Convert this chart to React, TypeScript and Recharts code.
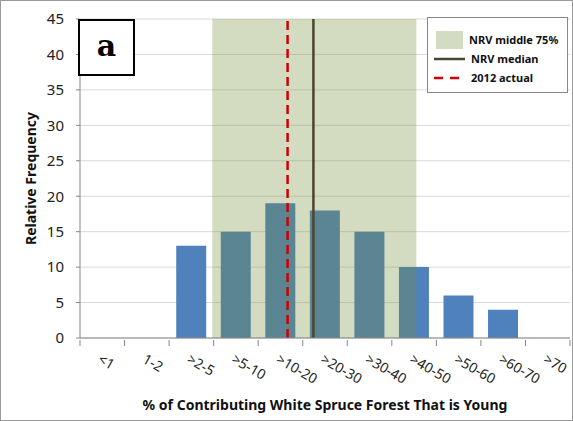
import React from 'react';
import {
  Bar,
  BarChart,
  CartesianGrid,
  Legend,
  ReferenceArea,
  ReferenceLine,
  XAxis,
  YAxis,
} from 'recharts';

const categories = ['<1', '1-2', '>2-5', '>5-10', '>10-20', '>20-30', '>30-40', '>40-50', '>50-60', '>60-70', '>70'];
const frequency = [0, 0, 13, 15, 19, 18, 15, 10, 6, 4, 0];
const yTicks = [0, 5, 10, 15, 20, 25, 30, 35, 40, 45];

// NRV stats in category-index units (0 = left edge of "<1", 11 = right edge of ">70")
const nrvMiddle75 = [2.97, 7.55];
const nrvMedian = 5.24;
const actual2012 = 4.66;

// pos = centre of each category on the numeric axis
const data = categories.map((category, i) => ({ category, pos: i + 0.5, frequency: frequency[i] }));
// integer ticks = category boundaries (tick marks), half ticks = category centres (labels)
const xTicks = categories.flatMap((_, i) => [i, i + 0.5]).concat(categories.length);

const FONT = '"Noto Sans", sans-serif';
const AXIS = '#868686';

function XTick({ x, y, payload }: any) {
  const v = payload.value;
  if (Number.isInteger(v)) {
    return <line x1={x} x2={x} y1={y} y2={y + 6} stroke={AXIS} />;
  }
  const ty = y + 13;
  return (
    <text
      x={x}
      y={ty}
      dy="0.75em"
      transform={`rotate(30, ${x}, ${ty})`}
      textAnchor="start"
      fontSize={14}
      fontFamily={FONT}
      fill="#222"
    >
      {categories[Math.floor(v)]}
    </text>
  );
}

function LegendBox() {
  const row: React.CSSProperties = { display: 'flex', alignItems: 'center', height: 19 };
  const txt: React.CSSProperties = { fontWeight: 700, fontSize: 11, fontFamily: FONT, color: '#111' };
  return (
    <div
      style={{
        width: 141,
        height: 76,
        boxSizing: 'border-box',
        border: '1px solid #888',
        background: '#fff',
        padding: '12px 0 0 6px',
      }}
    >
      <div style={row}>
        <div style={{ width: 27, height: 18, background: '#d3dbc0', margin: '0 6px 0 2px' }} />
        <span style={txt}>NRV middle 75%</span>
      </div>
      <div style={row}>
        <svg width={33} height={6} style={{ marginRight: 4 }}>
          <line x1={0} x2={31} y1={3} y2={3} stroke="#4a4530" strokeWidth={2.5} />
        </svg>
        <span style={txt}>NRV median</span>
      </div>
      <div style={row}>
        <svg width={33} height={6} style={{ marginRight: 4 }}>
          <line x1={0} x2={31} y1={3} y2={3} stroke="#d00000" strokeWidth={2.5} strokeDasharray="9 7" />
        </svg>
        <span style={txt}>2012 actual</span>
      </div>
    </div>
  );
}

export default function App() {
  return (
    <div
      style={{
        position: 'absolute',
        left: 0,
        top: 0,
        width: 573,
        height: 421,
        boxSizing: 'border-box',
        border: '1px solid #9a9a9a',
        background: '#fff',
      }}
    >
      <BarChart
        width={571}
        height={419}
        data={data}
        margin={{ top: 18, right: 2, left: 29, bottom: 0 }}
        barCategoryGap="16%"
        style={{ position: 'absolute', left: 0, top: 0 }}
      >
        <CartesianGrid vertical={false} stroke="#d9d9d9" />
        <XAxis
          xAxisId="num"
          dataKey="pos"
          type="number"
          domain={[0, categories.length]}
          allowDataOverflow
          ticks={xTicks}
          interval={0}
          allowDecimals
          tickSize={0}
          tickLine={false}
          axisLine={{ stroke: AXIS }}
          tick={<XTick />}
          height={82}
          label={{
            value: '% of Contributing White Spruce Forest That is Young',
            position: 'insideBottom',
            offset: 10,
            style: { fontWeight: 700, fontSize: 14, fontFamily: FONT, fill: '#111' },
          }}
        />
        <XAxis xAxisId="cat" dataKey="category" hide height={0} />
        <YAxis
          domain={[0, 45]}
          ticks={yTicks}
          interval={0}
          width={50}
          tickSize={4}
          tickMargin={12}
          axisLine={{ stroke: AXIS }}
          tickLine={{ stroke: AXIS }}
          tick={{ fontSize: 15, fontFamily: FONT, fill: '#222' }}
          label={{
            value: 'Relative Frequency',
            angle: -90,
            position: 'insideLeft',
            content: ({ viewBox }: any) => (
              <text
                x={29}
                y={viewBox.y + viewBox.height / 2}
                transform={`rotate(-90, 29, ${viewBox.y + viewBox.height / 2})`}
                textAnchor="middle"
                dominantBaseline="central"
                fontWeight={700}
                fontSize={14}
                fontFamily={FONT}
                fill="#111"
              >
                Relative Frequency
              </text>
            ),
          }}
        />
        <Bar xAxisId="cat" dataKey="frequency" fill="#4f81bd" isAnimationActive={false} />
        <ReferenceArea
          xAxisId="num"
          x1={nrvMiddle75[0]}
          x2={nrvMiddle75[1]}
          y1={0}
          y2={45}
          fill="#758e3a"
          fillOpacity={0.32}
          stroke="none"
          zIndex={350}
        />
        <ReferenceLine xAxisId="num" x={actual2012} stroke="#d00000" strokeWidth={2.5} strokeDasharray="9 5" zIndex={400} />
        <ReferenceLine xAxisId="num" x={nrvMedian} stroke="#4a4530" strokeWidth={2.5} zIndex={400} />
        <Legend
          layout="horizontal"
          verticalAlign="middle"
          align="center"
          content={() => <LegendBox />}
          wrapperStyle={{ position: 'absolute', left: 426, top: 16, width: 141, height: 76 }}
        />
      </BarChart>
      <div
        style={{
          position: 'absolute',
          left: 77,
          top: 18,
          width: 57,
          height: 57,
          boxSizing: 'border-box',
          border: '2px solid #000',
          background: '#fff',
          display: 'flex',
          alignItems: 'center',
          justifyContent: 'center',
          fontFamily: '"DejaVu Serif", "Liberation Serif", serif',
          fontWeight: 700,
          fontSize: 30,
          paddingBottom: 4,
        }}
      >
        a
      </div>
    </div>
  );
}
